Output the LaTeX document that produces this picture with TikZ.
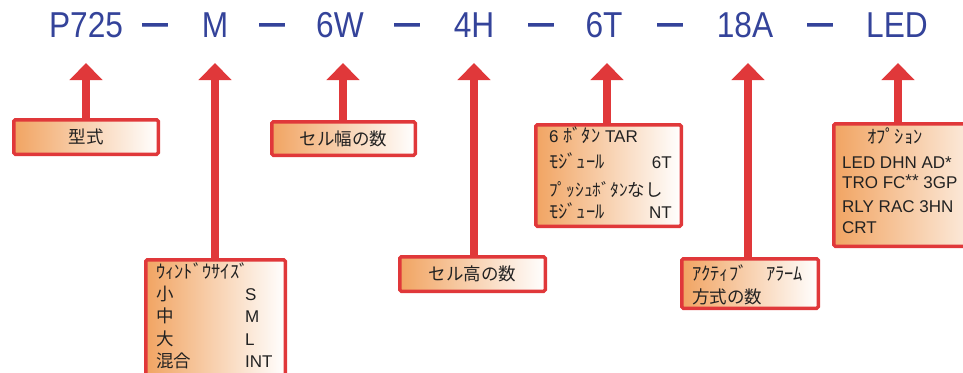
\documentclass[tikz,border=0pt]{standalone}
\usepackage{fontspec}
\setmainfont{Liberation Sans}
\newfontfamily\jp{Noto Sans CJK JP}
\newfontfamily\cond[FakeStretch=0.88]{Liberation Sans}
\newfontfamily\dashfont[FakeStretch=1.25,FakeBold=2.5]{Liberation Sans}
\usetikzlibrary{arrows.meta,calc}
\definecolor{codeblue}{HTML}{34439A}
\definecolor{boxred}{HTML}{E0383A}
\definecolor{boxorange}{HTML}{F1A462}
\definecolor{txt}{HTML}{222222}
\begin{document}
\begin{tikzpicture}[x=1pt,y=-1pt,
  code/.style={font=\cond\fontsize{36}{36}\selectfont, text=codeblue, anchor=base, inner sep=0},
  dsh/.style={font=\dashfont\fontsize{36}{36}\selectfont, text=codeblue, anchor=base, inner sep=0},
  arr/.style={boxred, line width=8pt, -{Triangle[width=32pt,length=17pt]}},
  box/.style={draw=boxred, line width=3.5pt, rounded corners=1.5pt, left color=boxorange, right color=white, inner sep=0, text=txt, font=\jp\fontsize{17.5}{20}\selectfont},
  jt/.style={font=\jp\fontsize{17.5}{20}\selectfont, text=txt, inner sep=0, anchor=base west},
  hk/.style={font=\jp\fontsize{18.5}{20}\selectfont, text=txt, inner sep=0, anchor=base west},
  lt/.style={font=\fontsize{17}{20}\selectfont, text=txt, inner sep=0, anchor=base west},
  rt/.style={font=\fontsize{17}{20}\selectfont, text=txt, inner sep=0, anchor=base east},
]
\useasboundingbox (0,0) rectangle (963,372);

% code line
\node[code] (t1) at (86,37) {P725};
\node[dsh] (d1) at (155,34) {–};
\node[code] (t2) at (215,37) {M};
\node[dsh] (d2) at (272,34) {–};
\node[code] (t3) at (340,37) {6W};
\node[dsh] (d3) at (407,34) {–};
\node[code] (t4) at (474,37) {4H};
\node[dsh] (d4) at (541,34) {–};
\node[code] (t5) at (604,37) {6T};
\node[dsh] (d5) at (670,34) {–};
\node[code] (t6) at (745,37) {18A};
\node[dsh] (d6) at (820,34) {–};
\node[code] (t7) at (897,37) {LED};

% arrow tips
\coordinate (h1) at (86,63);
\coordinate (h2) at (215,63);
\coordinate (h3) at (343,63);
\coordinate (h4) at (474,63);
\coordinate (h5) at (607,63);
\coordinate (h6) at (748,63);
\coordinate (h7) at (898,63);

% boxes
\node[box, minimum width=144.5pt, minimum height=34.5pt] (b1) at (86,137) {型式};
\node[box, minimum width=143.5pt, minimum height=33.5pt] (b2) at (343.5,138.5) {セル幅の数};
\node[box, minimum width=145.5pt, minimum height=101.5pt] (b3) at (608.5,175.5) {};
\node[box, minimum width=174.5pt, minimum height=122.5pt] (b4) at (921,185) {};
\node[box, minimum width=139.5pt, minimum height=158.5pt] (b5) at (215.5,339) {};
\node[box, minimum width=145.5pt, minimum height=34.5pt] (b6) at (472.5,274) {セル高の数};
\node[box, minimum width=136.5pt, minimum height=49.5pt] (b7) at (750,283.5) {};

% arrows
\draw[arr] (b1.north -| h1) -- (h1);
\draw[arr] (b5.north -| h2) -- (h2);
\draw[arr] (b2.north -| h3) -- (h3);
\draw[arr] (b6.north -| h4) -- (h4);
\draw[arr] (b3.north -| h5) -- (h5);
\draw[arr] (b7.north -| h6) -- (h6);
\draw[arr] (b4.north -| h7) -- (h7);

% box 3 text
\node[lt] (b3a) at (549,142) {6 {\jp\fontsize{18.5}{20}\selectfont ﾎﾞﾀﾝ} TAR};
\node[hk] (b3b) at (549,168) {ﾓｼﾞｭｰﾙ};
\node[rt] (b3c) at (672,168) {6T};
\node[jt] (b3d) at (549,196) {ﾌﾟｯｼｭﾎﾞﾀﾝなし};
\node[hk] (b3e) at (549,218) {ﾓｼﾞｭｰﾙ};
\node[rt] (b3f) at (672,218) {NT};

% box 4 text
\node[hk] (b4a) at (867,143) {ｵﾌﾟｼｮﾝ};
\node[lt] (b4b) at (842,168) {LED DHN AD*};
\node[lt] (b4c) at (842,188) {TRO FC\raisebox{2pt}{**} 3GP};
\node[lt] (b4d) at (842,212) {RLY RAC 3HN};
\node[lt] (b4e) at (842,233) {CRT};

% box 5 text
\node[hk] (b5a) at (156,278) {ｳｨﾝﾄﾞｳｻｲｽﾞ};
\node[jt] (b5b) at (156,300) {小};
\node[lt] (b5c) at (245,300) {S};
\node[jt] (b5d) at (156,322) {中};
\node[lt] (b5e) at (245,322) {M};
\node[jt] (b5f) at (156,345) {大};
\node[lt] (b5g) at (245,345) {L};
\node[jt] (b5h) at (156,367) {混合};
\node[lt] (b5i) at (245,367) {INT};

% box 7 text
\node[hk] (b7a) at (692,280) {ｱｸﾃｨﾌﾞ　ｱﾗｰﾑ};
\node[jt] (b7b) at (692,303) {方式の数};
\end{tikzpicture}
\end{document}
